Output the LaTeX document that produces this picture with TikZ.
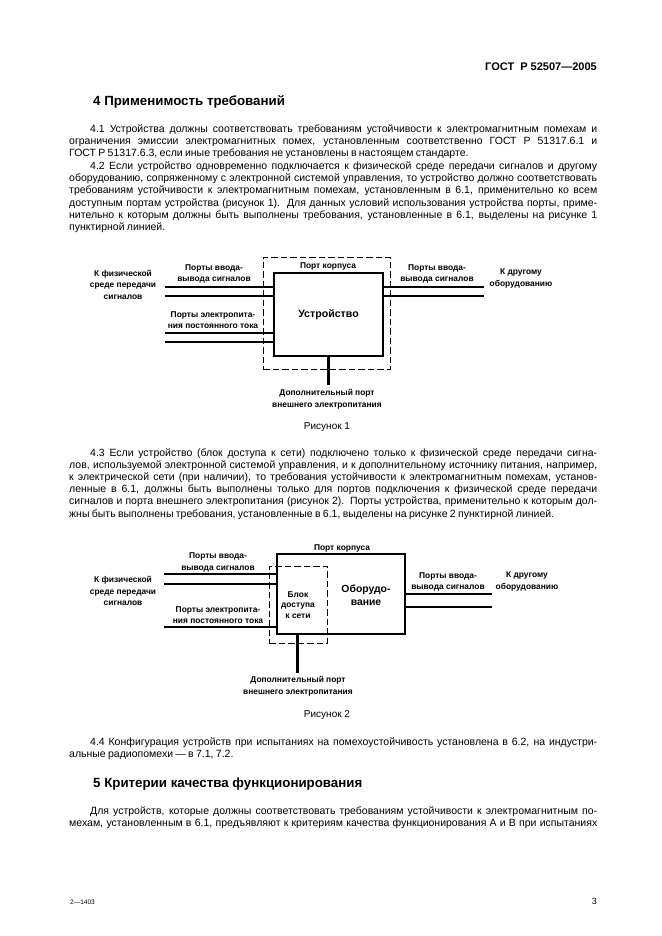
\documentclass[tikz,border=0pt]{standalone}
\usepackage{fontspec}
\setmainfont{Liberation Sans}
\tolerance=9999
\hyphenpenalty=10000

% justified body paragraph, first line indented
\newcommand{\bodypar}[1]{\parbox[t]{528pt}{\fontsize{10.5}{12.2}\selectfont
  \spaceskip=0.22em plus 0.6em minus 0.06em\relax
  \parindent=21pt\relax\indent #1}}

\begin{document}
\begin{tikzpicture}[x=1pt, y=-1pt,
    para/.style={anchor=base west, inner sep=0pt},
    heading/.style={anchor=base west, inner sep=0pt, font=\fontsize{13.3}{15}\selectfont\bfseries},
    lbl/.style={inner sep=0pt, align=center, font=\fontsize{8.4}{11.5}\selectfont\bfseries},
    devbox/.style={rectangle, draw, line width=2.6pt, inner sep=0pt, outer sep=0pt,
      font=\fontsize{10.6}{12.5}\selectfont\bfseries, align=center},
    encl/.style={rectangle, draw, dash pattern=on 6.5pt off 3pt, line width=0.9pt, inner sep=0pt},
    port/.style={line width=2.3pt},
    caption/.style={inner sep=0pt, font=\fontsize{10}{12}\selectfont}]

    \useasboundingbox[fill=white] (0,0) rectangle (661,936);

    % Header
    \node[anchor=base east, inner sep=0pt, font=\fontsize{11}{12}\selectfont\bfseries] (gost) at (597,71) {ГОСТ\ \ Р\ 52507—2005};

    % Section 4
    \node[heading] (sec4) at (93,106) {4 Применимость требований};

    \node[para] (p41) at (69,132.5) {\bodypar{4.1 Устройства должны соответствовать требованиям устойчивости к электромагнитным помехам и\linebreak
    ограничения эмиссии электромагнитных помех, установленным соответственно ГОСТ Р 51317.6.1 и\linebreak
    ГОСТ Р 51317.6.3, если иные требования не установлены в настоящем стандарте.}};

    \node[para] (p42) at (69,169.5) {\bodypar{4.2 Если устройство одновременно подключается к физической среде передачи сигналов и другому\linebreak
    оборудованию, сопряженному с электронной системой управления, то устройство должно соответствовать\linebreak
    требованиям устойчивости к электромагнитным помехам, установленным в 6.1, применительно ко всем\linebreak
    доступным портам устройства (рисунок 1). Для данных условий использования устройства порты, приме-\linebreak
    нительно к которым должны быть выполнены требования, установленные в 6.1, выделены на рисунке 1\linebreak
    пунктирной линией.}};

    % Рисунок 1
    \node[encl, minimum width=127pt, minimum height=112pt] (encl1) at (326.5,313) {};
    \node[devbox, minimum width=109pt, minimum height=83pt] (dev) at (328.5,314.5) {Устройство};

    \coordinate (sigL1) at (165,287);
    \coordinate (sigL2) at (165,296);
    \coordinate (pwrL1) at (165,333);
    \coordinate (pwrL2) at (165,342);
    \coordinate (sigR1) at (484,287);
    \coordinate (sigR2) at (484,296);
    \coordinate (ext1) at (328,385);

    \draw[port] (sigL1) -- (sigL1 -| dev.west);
    \draw[port] (sigL2) -- (sigL2 -| dev.west);
    \draw[port] (pwrL1) -- (pwrL1 -| dev.west);
    \draw[port] (pwrL2) -- (pwrL2 -| dev.west);
    \draw[port] (sigR1 -| dev.east) -- (sigR1);
    \draw[port] (sigR2 -| dev.east) -- (sigR2);
    \draw[port, line width=3pt] (ext1 |- dev.south) -- (ext1);

    \node[lbl] (case1) at (328,266) {Порт корпуса};
    \node[lbl] (ioL1) at (214,274) {Порты ввода-\\вывода сигналов};
    \node[lbl] (media1) at (123,284.5) {К физической\\среде передачи\\сигналов};
    \node[lbl] (dcL1) at (213,320) {Порты электропита-\\ния постоянного тока};
    \node[lbl] (ioR1) at (437,274) {Порты ввода-\\вывода сигналов};
    \node[lbl] (other1) at (521,278.5) {К другому\\оборудованию};
    \node[lbl] (extlbl1) at (327,399) {Дополнительный порт\\внешнего электропитания};
    \node[caption] (fig1) at (327,427) {Рисунок 1};

    \node[para] (p43) at (69,456) {\bodypar{4.3 Если устройство (блок доступа к сети) подключено только к физической среде передачи сигна-\linebreak
    лов, используемой электронной системой управления, и к дополнительному источнику питания, например,\linebreak
    к электрической сети (при наличии), то требования устойчивости к электромагнитным помехам, установ-\linebreak
    ленные в 6.1, должны быть выполнены только для портов подключения к физической среде передачи\linebreak
    сигналов и порта внешнего электропитания (рисунок 2). Порты устройства, применительно к которым дол-\linebreak
    жны быть выполнены требования, установленные в 6.1, выделены на рисунке 2 пунктирной линией.}};

    % Рисунок 2
    \node[encl, minimum width=58pt, minimum height=77pt] (encl2) at (298,604.5) {};
    \node[devbox, minimum width=128pt, minimum height=80pt] (equip) at (341,594) {};

    \coordinate (sigL3) at (164,574);
    \coordinate (sigL4) at (164,584);
    \coordinate (pwrL3) at (164,627);
    \coordinate (sigR3) at (492,594);
    \coordinate (sigR4) at (492,607);
    \coordinate (ext2) at (297,673);

    \draw[port] (sigL3) -- (sigL3 -| equip.west);
    \draw[port] (sigL4) -- (sigL4 -| equip.west);
    \draw[port] (pwrL3) -- (pwrL3 -| equip.west);
    \draw[port] (sigR3 -| equip.east) -- (sigR3);
    \draw[port] (sigR4 -| equip.east) -- (sigR4);
    \draw[port, line width=3pt] (ext2 |- equip.south) -- (ext2);

    \node[lbl, font=\fontsize{10.4}{12.5}\selectfont\bfseries] (equiptxt) at (366,595) {Оборудо-\\вание};
    \node[lbl, font=\fontsize{8.4}{10.5}\selectfont\bfseries] (nau) at (298,605) {Блок\\доступа\\к сети};
    \node[lbl] (case2) at (342,548) {Порт корпуса};
    \node[lbl] (ioL2) at (218,562.5) {Порты ввода-\\вывода сигналов};
    \node[lbl] (media2) at (123,591) {К физической\\среде передачи\\сигналов};
    \node[lbl] (dcL2) at (218,615) {Порты электропита-\\ния постоянного тока};
    \node[lbl] (ioR2) at (448,582) {Порты ввода-\\вывода сигналов};
    \node[lbl] (other2) at (527,581.5) {К другому\\оборудованию};
    \node[lbl] (extlbl2) at (298,686) {Дополнительный порт\\внешнего электропитания};
    \node[caption] (fig2) at (327,715) {Рисунок 2};

    \node[para] (p44) at (69,745.5) {\bodypar{4.4 Конфигурация устройств при испытаниях на помехоустойчивость установлена в 6.2, на индустри-\linebreak
    альные радиопомехи — в 7.1, 7.2.}};

    % Section 5
    \node[heading] (sec5) at (93,787) {5 Критерии качества функционирования};

    \node[para] (p5) at (69,814.5) {\bodypar{Для устройств, которые должны соответствовать требованиям устойчивости к электромагнитным по-\linebreak
    мехам, установленным в 6.1, предъявляют к критериям качества функционирования А и В при испытаниях\parfillskip=0pt\relax\par}};

    % Footer
    \node[anchor=base west, inner sep=0pt, font=\fontsize{6.5}{8}\selectfont] (sheet) at (70,904) {2—1403};
    \node[anchor=base east, inner sep=0pt, font=\fontsize{9}{11}\selectfont] (page) at (597,904) {3};

\end{tikzpicture}
\end{document}
